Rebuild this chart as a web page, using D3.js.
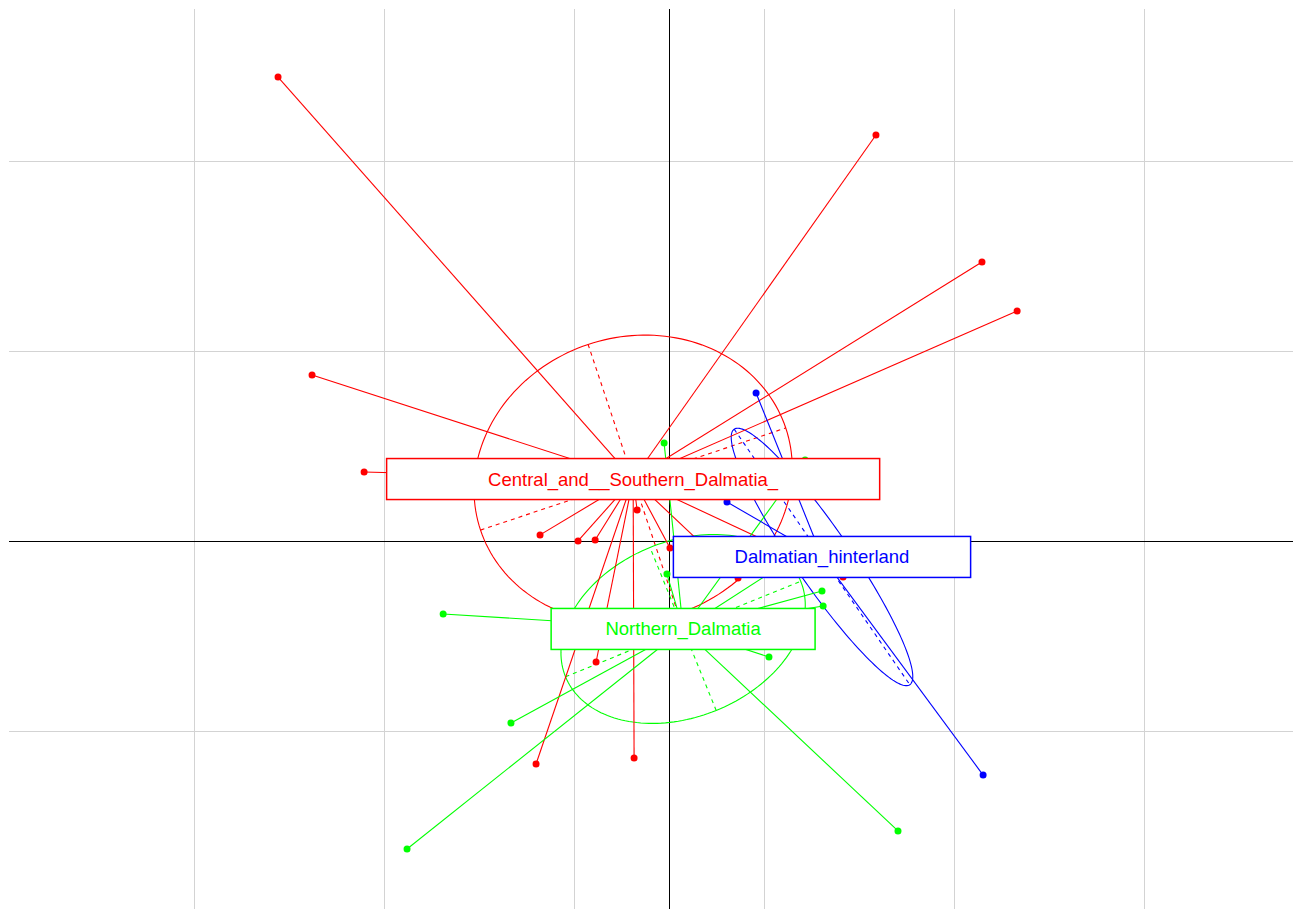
<!DOCTYPE html>
<html><head><meta charset="utf-8">
<script src="https://cdn.jsdelivr.net/npm/d3@7"></script>
<style>body{margin:0;background:#fff}</style>
</head><body>
<svg id="chart" width="1293" height="909"></svg>
<script>
// ---- data (factorial coordinates) ----
const groupNames = ["Central_and__Southern_Dalmatia_", "Northern_Dalmatia", "Dalmatian_hinterland"];
const groupColors = ["#FF0000", "#00FF00", "#0000FF"];

const centralX = [-2.058, 1.089, 1.647, 1.832, -1.879, -1.605, -0.679, -0.479, -0.389, -0.168, -0.384, -0.700, -0.184, 0.363, 0.916, 0.005];
const centralY = [2.442, 2.137, 1.468, 1.211, 0.874, 0.363, 0.032, 0.000, 0.005, 0.163, -0.637, -1.174, -1.142, -0.195, -0.189, -0.037];

const northernX = [-1.189, -0.832, -1.379, 1.205, 0.526, 0.805, 0.811, -0.026, -0.011, 0.716, 0.637];
const northernY = [-0.384, -0.958, -1.621, -1.526, -0.611, -0.263, -0.342, 0.516, -0.174, 0.426, -0.100];

const hinterlandX = [0.458, 0.305, 1.653];
const hinterlandY = [0.779, 0.205, -1.232];

// group centres (class means) and ellipse parameters
const centerX = [-0.189, 0.074, 0.805];
const centerY = [0.326, -0.463, -0.084];
const ellipseA = [0.847, 0.668, 0.816];
const ellipseB = [0.747, 0.463, 0.147];
const ellipseAngle = [18.5, 22.1, -55.5]; // degrees

const gridX = [-2.5, -1.5, -0.5, 0.5, 1.5, 2.5];
const gridY = [-1, 0, 1, 2];
const xLim = [-3.474, 3.284];
const yLim = [-1.937, 2.8];

// ---- drawing ----
const svg = d3.select("#chart");
const pLeft = 9, pRight = 1293, pTop = 9, pBottom = 909;
const x = d3.scaleLinear().domain(xLim).range([pLeft, pRight]);
const y = d3.scaleLinear().domain(yLim).range([pBottom, pTop]);
const crisp = v => Math.round(v) + 0.5;

svg.append("defs").append("clipPath").attr("id", "clip")
  .append("rect").attr("x", pLeft).attr("y", pTop).attr("width", pRight - pLeft).attr("height", pBottom - pTop);

const g = svg.append("g").attr("clip-path", "url(#clip)");

// grid
g.selectAll(null).data(gridX).join("line")
  .attr("x1", d => crisp(x(d))).attr("x2", d => crisp(x(d))).attr("y1", pTop).attr("y2", pBottom)
  .attr("stroke", "#D3D3D3").attr("stroke-width", 1);
g.selectAll(null).data(gridY).join("line")
  .attr("y1", d => crisp(y(d))).attr("y2", d => crisp(y(d))).attr("x1", pLeft).attr("x2", pRight)
  .attr("stroke", "#D3D3D3").attr("stroke-width", 1);

// axes through origin
g.append("line").attr("x1", pLeft).attr("x2", pRight).attr("y1", crisp(y(0))).attr("y2", crisp(y(0)))
  .attr("stroke", "#000").attr("stroke-width", 1);
g.append("line").attr("x1", crisp(x(0))).attr("x2", crisp(x(0))).attr("y1", pTop).attr("y2", pBottom)
  .attr("stroke", "#000").attr("stroke-width", 1);

const groupsData = [
  {xs: centralX, ys: centralY},
  {xs: northernX, ys: northernY},
  {xs: hinterlandX, ys: hinterlandY}
];

// ellipses with axes
groupsData.forEach((grp, i) => {
  const cx = centerX[i], cy = centerY[i], a = ellipseA[i], b = ellipseB[i];
  const th = ellipseAngle[i] * Math.PI / 180;
  const pts = d3.range(0, 361, 2).map(t => {
    const r = t * Math.PI / 180;
    const u = a * Math.cos(r), v = b * Math.sin(r);
    return [x(cx + u * Math.cos(th) - v * Math.sin(th)), y(cy + u * Math.sin(th) + v * Math.cos(th))];
  });
  g.append("path").attr("d", d3.line()(pts)).attr("fill", "none")
    .attr("stroke", groupColors[i]).attr("stroke-width", 1.1);
  const axes = [
    [[cx - a * Math.cos(th), cy - a * Math.sin(th)], [cx + a * Math.cos(th), cy + a * Math.sin(th)]],
    [[cx + b * Math.sin(th), cy - b * Math.cos(th)], [cx - b * Math.sin(th), cy + b * Math.cos(th)]]
  ];
  axes.forEach(seg => {
    g.append("line")
      .attr("x1", x(seg[0][0])).attr("y1", y(seg[0][1]))
      .attr("x2", x(seg[1][0])).attr("y2", y(seg[1][1]))
      .attr("stroke", groupColors[i]).attr("stroke-width", 1.1)
      .attr("stroke-dasharray", "4,4");
  });
});

// stars
groupsData.forEach((grp, i) => {
  g.selectAll(null).data(d3.range(grp.xs.length)).join("line")
    .attr("x1", k => x(grp.xs[k])).attr("y1", k => y(grp.ys[k]))
    .attr("x2", x(centerX[i])).attr("y2", y(centerY[i]))
    .attr("stroke", groupColors[i]).attr("stroke-width", 1.1);
});

// points
groupsData.forEach((grp, i) => {
  g.selectAll(null).data(d3.range(grp.xs.length)).join("circle")
    .attr("cx", k => x(grp.xs[k])).attr("cy", k => y(grp.ys[k]))
    .attr("r", 3.5).attr("fill", groupColors[i]);
});

// labels
groupNames.forEach((name, i) => {
  const lg = g.append("g");
  const rect = lg.append("rect");
  const txt = lg.append("text")
    .attr("x", x(centerX[i])).attr("y", y(centerY[i]))
    .attr("text-anchor", "middle").attr("dominant-baseline", "central")
    .attr("font-family", "'Liberation Sans', Arial, sans-serif")
    .attr("font-size", "18.5px").attr("fill", groupColors[i])
    .text(name);
  const w = txt.node().getComputedTextLength() * 1.70;
  const h = 41;
  rect.attr("x", x(centerX[i]) - w / 2).attr("y", y(centerY[i]) - h / 2)
    .attr("width", w).attr("height", h)
    .attr("fill", "#fff").attr("stroke", groupColors[i]).attr("stroke-width", 1.5);
});
</script>
</body></html>
